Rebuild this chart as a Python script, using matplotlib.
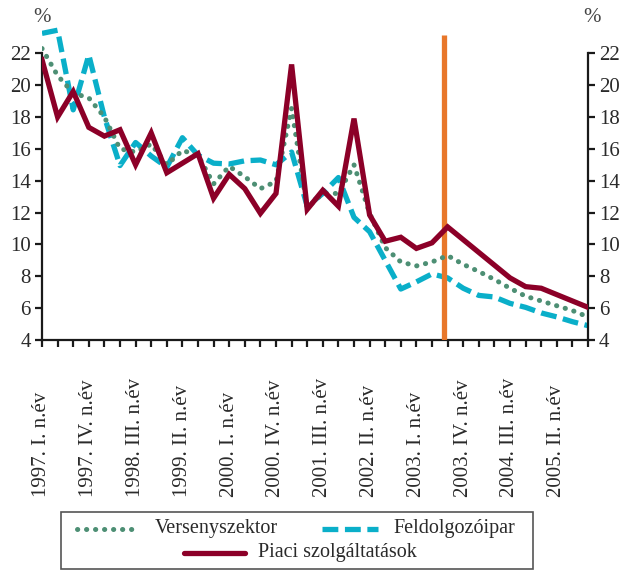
import matplotlib
matplotlib.use("Agg")
import matplotlib.pyplot as plt
from matplotlib.lines import Line2D
from matplotlib.patches import Rectangle
import matplotlib.transforms as mtransforms

# ---- data (quarterly, 1997 Q1 .. 2005 Q4) ----
quarters = list(range(36))
label_pos = [0, 3, 6, 9, 12, 15, 18, 21, 24, 27, 30, 33]
tick_labels = ["1997. I. n.év", "1997. IV. n.év", "1998. III. n.év", "1999. II. n.év",
               "2000. I. n.év", "2000. IV. n.év", "2001. III. n.év", "2002. II. n.év",
               "2003. I. n.év", "2003. IV. n.év", "2004. III. n.év", "2005. II. n.év"]

versenyszektor = [22.3, 20.6, 19.5, 19.2, 18.0, 16.0, 15.8, 16.3, 15.0, 15.9, 15.6, 13.8,
                  14.9, 14.25, 13.5, 13.95, 18.55, 12.3, 13.2, 13.2, 15.0, 11.95, 9.8, 8.9,
                  8.65, 8.9, 9.3, 8.75, 8.3, 7.8, 7.25, 6.75, 6.45, 6.15, 5.85, 5.45]
feldolgozoipar = [23.25, 23.45, 18.45, 21.9, 18.0, 14.95, 16.4, 15.55, 14.85, 16.7, 15.6, 15.1,
                  15.05, 15.25, 15.3, 15.0, 15.8, 12.4, 13.2, 14.2, 11.7, 10.8, 9.0, 7.2,
                  7.65, 8.15, 7.9, 7.25, 6.8, 6.7, 6.3, 6.05, 5.7, 5.45, 5.15, 4.9]
piaci = [21.6, 18.0, 19.6, 17.35, 16.8, 17.2, 15.0, 17.0, 14.5, 15.1, 15.7, 12.9,
         14.4, 13.5, 11.95, 13.2, 21.3, 12.2, 13.4, 12.4, 17.9, 11.85, 10.2, 10.45,
         9.75, 10.1, 11.1, 10.3, 9.5, 8.7, 7.9, 7.35, 7.25, 6.85, 6.45, 6.05]
marker_x = 25.75
series_names = ["Versenyszektor", "Feldolgozóipar", "Piaci szolgáltatások"]

GREEN = "#4d8f74"
CYAN = "#0aafc9"
RED = "#8c0028"
ORANGE = "#e8772a"
TXT = "#2a2a2a"

plt.rcParams['font.family'] = ['Liberation Serif', 'DejaVu Serif']

W, H = 629, 570
fig = plt.figure(figsize=(W / 100, H / 100), dpi=100)
y_top_px = 53.3 - 2 * 15.93
ax = fig.add_axes([42 / W, 1 - 340 / H, (588 - 42) / W, (340 - y_top_px) / H])
ax.set_xlim(0, 35)
ax.set_ylim(4, 24)

green_style = dict(color=GREEN, lw=3.6, linestyle=(0, (0.05, 1.75)), dash_capstyle='round',
                   solid_capstyle='round')
cyan_style = dict(color=CYAN, lw=3.8, linestyle=(0, (3.0, 1.25)), dash_capstyle='butt')
red_style = dict(color=RED, lw=3.8, solid_joinstyle='miter')

ax.plot(quarters, feldolgozoipar, zorder=2, **cyan_style)
ax.plot([marker_x, marker_x], [4, 23.15], color=ORANGE, lw=3.8, zorder=3, solid_capstyle='butt')
ax.plot(quarters, versenyszektor, zorder=4, **green_style)
ax.plot(quarters, piaci, zorder=5, **red_style)

# spines
ax.spines['top'].set_visible(False)
for s in ['left', 'right', 'bottom']:
    ax.spines[s].set_linewidth(1.6)
    ax.spines[s].set_color('#1a1a1a')
ax.spines['left'].set_bounds(4, 22)
ax.spines['right'].set_bounds(4, 22)

ax.set_yticks(range(4, 23, 2))
ax.tick_params(axis='y', which='both', left=True, right=True, labelleft=True, labelright=True,
               direction='out', length=5, width=1.6, color='#1a1a1a', labelsize=15,
               labelcolor=TXT, pad=3)
ax.set_xticks(quarters)
ax.set_xticklabels([])
ax.tick_params(axis='x', direction='out', length=5, width=1.6, color='#1a1a1a')

# rotated x labels, bottom aligned
trans = mtransforms.blended_transform_factory(ax.transData, fig.transFigure)
for p, lab in zip(label_pos, tick_labels):
    ax.text(p, 1 - 497 / H, lab, transform=trans, rotation=90, ha='center', va='bottom',
            fontsize=15, color=TXT)

# % labels
fig.text(42 / W, 1 - 18 / H, "%", ha='center', va='center', fontsize=15, color='#444444')
fig.text(592 / W, 1 - 18 / H, "%", ha='center', va='center', fontsize=15, color='#444444')

# legend box (manual, to mimic 2+1 centred layout)
fig.add_artist(Rectangle((61 / W, 1 - 569 / H), (533 - 61) / W, (569 - 512) / H,
                         transform=fig.transFigure, fill=False, ec='#555555', lw=1.2))


def leg_entry(x0, x1, y, style, text, tx):
    fig.add_artist(Line2D([x0 / W, x1 / W], [1 - y / H, 1 - y / H], transform=fig.transFigure,
                          **style))
    fig.text(tx / W, 1 - y / H, text, ha='left', va='center', fontsize=14.5, color=TXT)


leg_entry(77, 138, 529, green_style, series_names[0], 155)
leg_entry(322, 378, 529, cyan_style, series_names[1], 393)
leg_entry(184, 245, 553, dict(color=RED, lw=3.8, solid_capstyle='round'), series_names[2], 258)

fig.savefig("out.png", dpi=100)
